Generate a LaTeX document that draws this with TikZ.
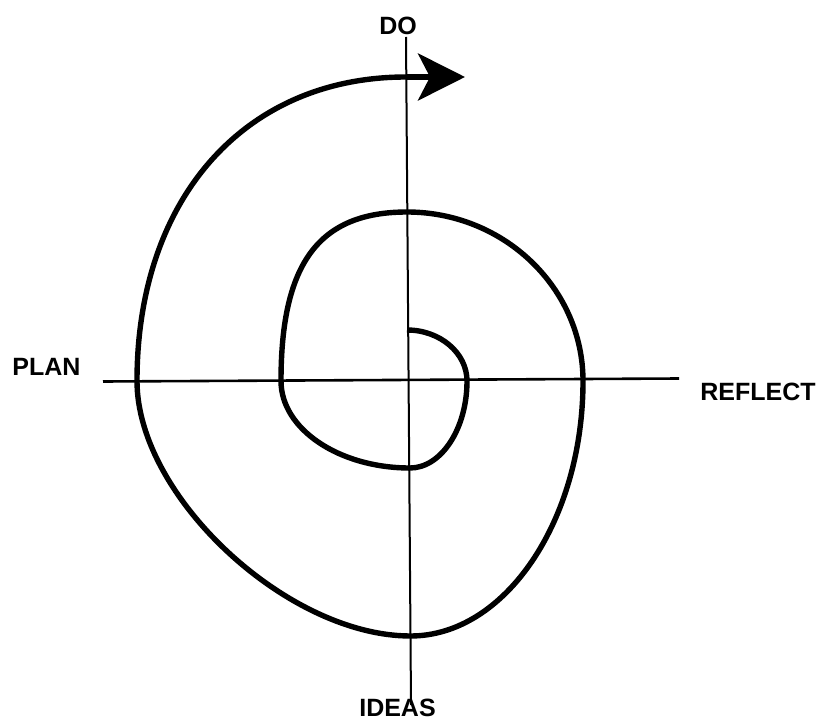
\documentclass[tikz,border=0pt]{standalone}
\usepackage{fontspec}
\setmainfont{Liberation Sans}
\usetikzlibrary{arrows.meta}
\begin{document}
\begin{tikzpicture}[x=1pt,y=-1pt,
  axisline/.style={line width=2.6pt},
  vaxis/.style={line width=2pt},
  spiral/.style={line width=5.4pt},
  lbl/.style={font=\fontsize{25}{25}\selectfont\bfseries, anchor=base, inner sep=0pt}]
\useasboundingbox (0,0) rectangle (821,722);
% axes
\coordinate (vtop) at (406,37);
\coordinate (vbot) at (411,705);
\coordinate (hl) at (103,381.5);
\coordinate (hr) at (679,378.5);
\draw[vaxis] (vtop) -- (vbot);
\draw[axisline] (hl) -- (hr);
% labels
\node[lbl] (do) at (398,35) {DO};
\node[lbl] (plan) at (46.5,375) {PLAN};
\node[lbl] (reflect) at (758,400) {REFLECT};
\node[lbl] (ideas) at (397.5,716.5) {IDEAS};
% spiral points
\coordinate (s0) at (407,330);
\coordinate (i1) at (467,381);
\coordinate (i2) at (410,468);
\coordinate (i3) at (281,381);
\coordinate (i4) at (407,212);
\coordinate (o1) at (583,381);
\coordinate (o2) at (410.5,636);
\coordinate (o3) at (137,381);
\coordinate (o4) at (406,77);
\coordinate (tip) at (465,77);
\draw[spiral]
  (s0) .. controls (440,330) and (467,353) .. (i1)
       .. controls (467,429) and (441,468) .. (i2)
       .. controls (339,468) and (281,429) .. (i3)
       .. controls (281,263) and (319,212) .. (i4)
       .. controls (504,212) and (583,288) .. (o1)
       .. controls (583,521) and (505,636) .. (o2)
       .. controls (287,636) and (137,496) .. (o3)
       .. controls (137,198.6) and (244.6,77) .. (o4);
\draw[spiral,-{Stealth[length=47pt,width=47pt,inset=12pt]}] (o4) -- (tip);
\end{tikzpicture}
\end{document}
